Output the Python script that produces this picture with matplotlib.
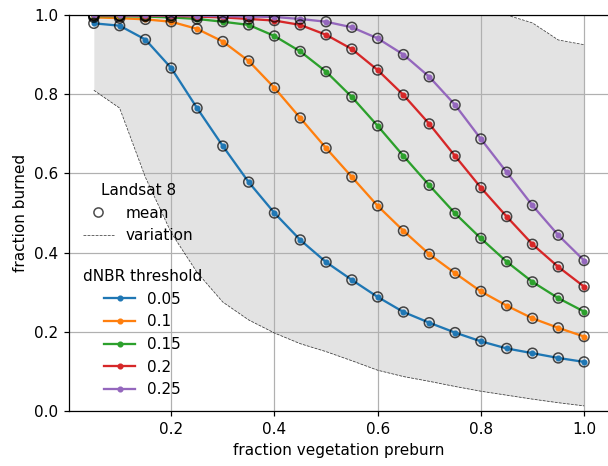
import matplotlib
matplotlib.use('Agg')
import matplotlib.pyplot as plt
from matplotlib.lines import Line2D

# fraction of vegetation before the burn (x) and fraction burned per dNBR threshold
veg_preburn = [0.05, 0.1, 0.15, 0.2, 0.25, 0.3, 0.35, 0.4, 0.45, 0.5,
               0.55, 0.6, 0.65, 0.7, 0.75, 0.8, 0.85, 0.9, 0.95, 1.0]
thresholds = ['0.05', '0.1', '0.15', '0.2', '0.25']
burned_005 = [0.979, 0.973, 0.938, 0.866, 0.765, 0.669, 0.578, 0.500, 0.432, 0.376,
              0.331, 0.288, 0.250, 0.223, 0.198, 0.176, 0.158, 0.146, 0.134, 0.124]
burned_010 = [0.994, 0.992, 0.989, 0.983, 0.965, 0.933, 0.884, 0.816, 0.740, 0.664,
              0.591, 0.518, 0.455, 0.396, 0.348, 0.302, 0.266, 0.234, 0.210, 0.188]
burned_015 = [0.997, 0.997, 0.996, 0.994, 0.990, 0.983, 0.975, 0.947, 0.908, 0.857,
              0.793, 0.720, 0.644, 0.570, 0.499, 0.436, 0.377, 0.326, 0.285, 0.251]
burned_020 = [0.999, 0.999, 0.998, 0.998, 0.996, 0.994, 0.990, 0.986, 0.975, 0.950,
              0.914, 0.861, 0.798, 0.725, 0.644, 0.564, 0.491, 0.421, 0.364, 0.314]
burned_025 = [1.0, 0.999, 0.999, 0.999, 0.998, 0.997, 0.996, 0.995, 0.990, 0.983,
              0.969, 0.941, 0.900, 0.844, 0.773, 0.687, 0.603, 0.519, 0.444, 0.380]
variation_low = [0.810, 0.765, 0.590, 0.450, 0.350, 0.275, 0.230, 0.197, 0.170, 0.150,
                 0.127, 0.103, 0.087, 0.075, 0.062, 0.050, 0.040, 0.030, 0.021, 0.013]
variation_high = [1.01, 1.01, 1.01, 1.01, 1.01, 1.01, 1.01, 1.01, 1.01, 1.01,
                  1.01, 1.01, 1.01, 1.01, 1.01, 1.01, 1.0, 0.98, 0.937, 0.925]

series = [burned_005, burned_010, burned_015, burned_020, burned_025]
colours = [f'tab:{c}' for c in ['blue', 'orange', 'green', 'red', 'purple']]

fig = plt.figure(figsize=(608 / 110, 466 / 110), dpi=110)
ax = fig.add_axes([0.114, 0.118, 0.887, 0.8498])
ax.spines['right'].set_visible(False)

ax.fill_between(veg_preburn, variation_low, variation_high, color='0.89', lw=0)
ax.plot(veg_preburn, variation_low, ls='--', c='k', lw=0.5, alpha=0.75)
ax.plot(veg_preburn, variation_high, ls='--', c='k', lw=0.5, alpha=0.75)

lines = []
for values, colour, label in zip(series, colours, thresholds):
    ln, = ax.plot(veg_preburn, values, c=colour, marker='.', label=label)
    lines.append(ln)
    ax.scatter(veg_preburn, values, s=42, facecolors='none', edgecolors='k',
               alpha=0.7, linewidths=1, zorder=3)

ax.set_ylim(0, 1)
ax.grid(True)
ax.set_xlabel('fraction vegetation preburn')
ax.set_ylabel('fraction burned')

# two legends: data source and threshold colours
landsat_handles = [
    Line2D([], [], ls='none', marker='o', mfc='none', mec='k', alpha=0.7),
    Line2D([], [], ls='--', c='k', lw=0.5, alpha=0.75),
]
leg1 = ax.legend(landsat_handles, ['mean', 'variation'], title='Landsat 8',
                 loc='center left', frameon=False)
ax.add_artist(leg1)
ax.legend(handles=lines, title='dNBR threshold', loc='lower left', frameon=False)

fig.savefig('out.png', dpi=110)
